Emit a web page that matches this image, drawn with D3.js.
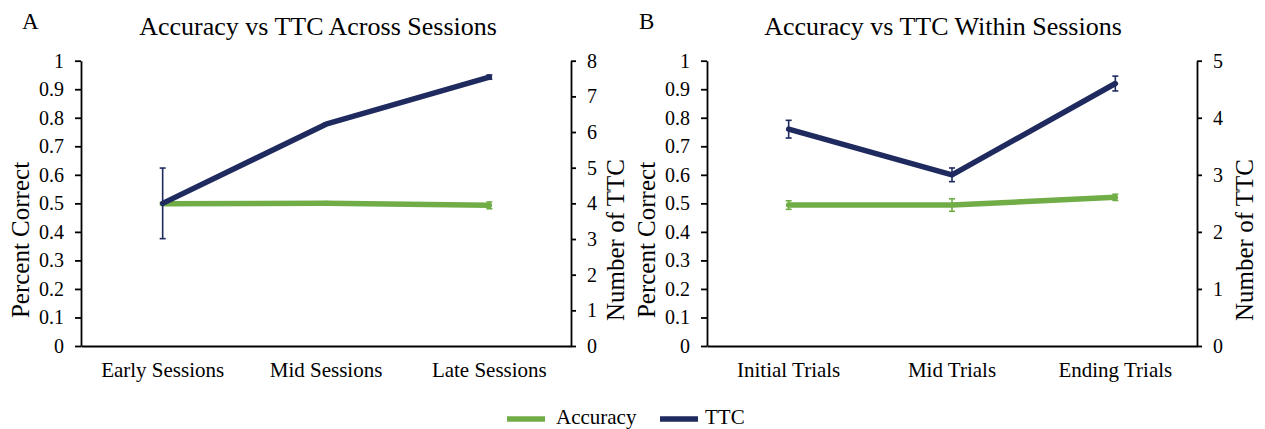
<!DOCTYPE html>
<html>
<head>
<meta charset="utf-8">
<script src="https://cdn.jsdelivr.net/npm/d3@7"></script>
<style>
  body { margin: 0; background: #fff; }
  svg { display: block; }
  text { font-family: "Liberation Serif", "Times New Roman", serif; fill: #000; }
</style>
</head>
<body>
<svg id="chart" width="1265" height="429"></svg>
<script>
// ---- Data ----
const categoriesA = ["Early Sessions", "Mid Sessions", "Late Sessions"];
const accuracyA = [0.499, 0.500, 0.493];
const accuracyErrA = [0.004, 0.006, 0.012];
const ttcA = [4.0, 6.22, 7.54];
const ttcErrA = [0.99, 0.03, 0.06];

const categoriesB = ["Initial Trials", "Mid Trials", "Ending Trials"];
const accuracyB = [0.494, 0.494, 0.521];
const accuracyErrB = [0.015, 0.022, 0.011];
const ttcB = [3.80, 3.00, 4.60];
const ttcErrB = [0.155, 0.12, 0.13];

const leftTicks = [0, 0.1, 0.2, 0.3, 0.4, 0.5, 0.6, 0.7, 0.8, 0.9, 1];
const rightTicksA = [0, 1, 2, 3, 4, 5, 6, 7, 8];
const rightTicksB = [0, 1, 2, 3, 4, 5];

const titles = ["Accuracy vs TTC Across Sessions", "Accuracy vs TTC Within Sessions"];
const panelLetters = ["A", "B"];
const seriesNames = ["Accuracy", "TTC"];

const GREEN = "#70AD47";
const NAVY = "#1F2A5F";
const SERIF = "'Liberation Serif', 'Times New Roman', serif";

const svg = d3.select("#chart");

function drawPanel(opt) {
  const g = svg.append("g");
  const x = d3.scaleBand().domain(opt.categories).range([opt.x0, opt.x1]).padding(0);
  const yL = d3.scaleLinear().domain([0, 1]).range([opt.yBottom, opt.yTop]);
  const yR = d3.scaleLinear().domain([0, opt.rightMax]).range([opt.yBottom, opt.yTop]);
  const cx = d => x(d) + x.bandwidth() / 2;

  const la = g.append("g").attr("transform", `translate(${opt.x0},0)`)
    .call(d3.axisLeft(yL).tickValues(leftTicks).tickSize(6).tickSizeOuter(0).tickPadding(11)
      .tickFormat(d => String(+d.toFixed(1))));
  const ra = g.append("g").attr("transform", `translate(${opt.x1},0)`)
    .call(d3.axisRight(yR).tickValues(opt.rightTicks).tickSize(5).tickSizeOuter(0).tickPadding(11)
      .tickFormat(d3.format("d")));
  const ba = g.append("g").attr("transform", `translate(0,${opt.yBottom})`)
    .call(d3.axisBottom(x).tickSize(0).tickPadding(16));
  [la, ra, ba].forEach(a => {
    a.attr("font-family", SERIF).attr("font-size", 20);
    a.selectAll("path.domain").attr("stroke", "#000").attr("stroke-width", 1.8);
    a.selectAll("line").attr("stroke", "#000").attr("stroke-width", 1.8);
    a.selectAll("text").style("font-family", SERIF).attr("fill", "#000").style("font-size", "20px");
  });
  ba.selectAll("text").style("font-size", "21px");

  // accuracy line
  const lineAcc = d3.line().x((d, i) => cx(opt.categories[i])).y(d => yL(d));
  g.append("path").datum(opt.acc).attr("d", lineAcc)
    .attr("fill", "none").attr("stroke", GREEN).attr("stroke-width", 5.5)
    .attr("stroke-linejoin", "round").attr("stroke-linecap", "round");
  opt.acc.forEach((v, i) => {
    const xc = cx(opt.categories[i]);
    const e = opt.accErr[i];
    const eb = g.append("g").attr("stroke", GREEN).attr("stroke-width", 1.6);
    eb.append("line").attr("x1", xc).attr("x2", xc).attr("y1", yL(v - e)).attr("y2", yL(v + e));
    eb.append("line").attr("x1", xc - 3).attr("x2", xc + 3).attr("y1", yL(v - e)).attr("y2", yL(v - e));
    eb.append("line").attr("x1", xc - 3).attr("x2", xc + 3).attr("y1", yL(v + e)).attr("y2", yL(v + e));
  });

  // TTC line
  const lineTtc = d3.line().x((d, i) => cx(opt.categories[i])).y(d => yR(d));
  g.append("path").datum(opt.ttc).attr("d", lineTtc)
    .attr("fill", "none").attr("stroke", NAVY).attr("stroke-width", 5.5)
    .attr("stroke-linejoin", "round").attr("stroke-linecap", "round");
  opt.ttc.forEach((v, i) => {
    const xc = cx(opt.categories[i]);
    const e = opt.ttcErr[i];
    const eb = g.append("g").attr("stroke", NAVY).attr("stroke-width", 1.6);
    eb.append("line").attr("x1", xc).attr("x2", xc).attr("y1", yR(v - e)).attr("y2", yR(v + e));
    eb.append("line").attr("x1", xc - 3).attr("x2", xc + 3).attr("y1", yR(v - e)).attr("y2", yR(v - e));
    eb.append("line").attr("x1", xc - 3).attr("x2", xc + 3).attr("y1", yR(v + e)).attr("y2", yR(v + e));
  });

  g.append("text").attr("x", opt.titleX).attr("y", 35).attr("text-anchor", "middle")
    .style("font-size", "26px").text(opt.title);
  g.append("text").attr("x", opt.letterX).attr("y", 29).style("font-size", "23px").text(opt.letter);
  const midY = 240;
  g.append("text").attr("transform", `translate(${opt.leftLabelX},${midY}) rotate(-90)`)
    .attr("text-anchor", "middle").style("font-size", "25px").text("Percent Correct");
  g.append("text").attr("transform", `translate(${opt.rightLabelX},${midY}) rotate(-90)`)
    .attr("text-anchor", "middle").style("font-size", "25px").text("Number of TTC");
}

drawPanel({
  categories: categoriesA, acc: accuracyA, accErr: accuracyErrA, ttc: ttcA, ttcErr: ttcErrA,
  x0: 81, x1: 571, yTop: 60.7, yBottom: 346, rightMax: 8, rightTicks: rightTicksA,
  title: titles[0], titleX: 318, letter: panelLetters[0], letterX: 22,
  leftLabelX: 29, rightLabelX: 624
});
drawPanel({
  categories: categoriesB, acc: accuracyB, accErr: accuracyErrB, ttc: ttcB, ttcErr: ttcErrB,
  x0: 707, x1: 1197, yTop: 60.7, yBottom: 346, rightMax: 5, rightTicks: rightTicksB,
  title: titles[1], titleX: 943, letter: panelLetters[1], letterX: 639,
  leftLabelX: 655, rightLabelX: 1253
});

// legend
const legend = svg.append("g");
const legendItems = [
  { name: seriesNames[0], color: GREEN, x: 507, gap: 49 },
  { name: seriesNames[1], color: NAVY, x: 660, gap: 45 }
];
legendItems.forEach(it => {
  legend.append("line").attr("x1", it.x).attr("x2", it.x + 38).attr("y1", 419).attr("y2", 419)
    .attr("stroke", it.color).attr("stroke-width", 5.5);
  legend.append("text").attr("x", it.x + it.gap).attr("y", 424).style("font-size", "21px").text(it.name);
});
</script>
</body>
</html>
